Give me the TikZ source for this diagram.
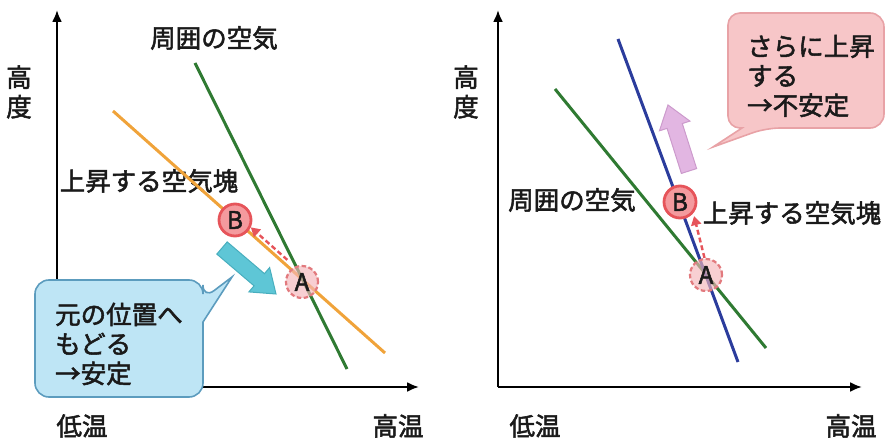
\documentclass[tikz,border=0pt]{standalone}
\usepackage{fontspec}
\setmainfont{Noto Sans CJK JP}[FakeBold=2]
\usetikzlibrary{calc,arrows.meta}
\definecolor{txt}{HTML}{1A1A1A}
\definecolor{gline}{HTML}{2F7A32}
\definecolor{oline}{HTML}{F0A33A}
\definecolor{bline}{HTML}{2B3C9C}
\definecolor{redB}{HTML}{E6545A}
\definecolor{redBfill}{HTML}{F49A9E}
\definecolor{redA}{HTML}{E27A7E}
\definecolor{redAfill}{HTML}{F4B6BA}
\definecolor{cyanfill}{HTML}{5EC6D6}
\definecolor{cyandraw}{HTML}{48AEBE}
\definecolor{purpfill}{HTML}{E2B6E2}
\definecolor{purpdraw}{HTML}{CC9ACC}
\definecolor{bluefill}{HTML}{BEE5F5}
\definecolor{bluedraw}{HTML}{5C9CBE}
\definecolor{pinkfill}{HTML}{F7C6C8}
\definecolor{pinkdraw}{HTML}{E8A2A6}
\newcommand{\fatarrow}[3]{%
  \coordinate (fh) at ($(#2)!22pt!(#1)$);
  \filldraw[#3]
    ($(#1)!8pt!90:(#2)$) -- ($(fh)!8pt!-90:(#1)$) -- ($(fh)!16pt!-90:(#1)$) -- (#2)
    -- ($(fh)!16pt!90:(#1)$) -- ($(fh)!8pt!90:(#1)$) -- ($(#1)!8pt!-90:(#2)$) -- cycle;}
\begin{document}
\begin{tikzpicture}[x=1pt,y=-1pt,
  axis/.style={line width=2.2pt, draw=black, -{Latex[length=12pt,width=10pt]}},
  lbl/.style={font=\fontsize{25.5}{29.5}\selectfont, text=txt, inner sep=0pt},
  ptB/.style={circle, minimum size=32pt, inner sep=0pt, fill=redBfill, draw=redB, line width=2.8pt, font=\fontsize{24}{24}\selectfont, text=txt},
  ptA/.style={circle, minimum size=32pt, inner sep=0pt, fill=redAfill, fill opacity=0.65, text opacity=1, draw=redA, draw opacity=1, dash pattern=on 4.5pt off 2.5pt, line width=2.2pt, font=\fontsize{24}{24}\selectfont, text=txt},
  dasharr/.style={draw=redB, line width=2.4pt, dash pattern=on 5pt off 3pt, -{Triangle[length=9pt,width=10pt]}},
  curve/.style={line width=3pt},
  bubbleB/.style={fill=bluefill, draw=bluedraw, line width=1.6pt},
  bubbleP/.style={fill=pinkfill, draw=pinkdraw, line width=1.6pt}]
\useasboundingbox (0,0) rectangle (886,438);

% ---------------- left panel ----------------
\coordinate (lo) at (57,387);
\coordinate (ly) at (57,10);
\coordinate (lx) at (419,387);
\draw[axis] (lo) -- (ly);
\draw[axis] (lo) -- (lx);
\node[lbl, align=center] (lh) at (19,92) {高\\度};
\node[lbl] (llow) at (82,426) {低温};
\node[lbl] (lhigh) at (398,426) {高温};
\node[lbl] (lenv) at (214,38) {周囲の空気};
\node[lbl] (lpar) at (149,181) {上昇する空気塊};

\draw[curve, oline] (113,111) -- (385,353);
\draw[curve, gline] (195,63) -- (347,369);

\coordinate (c1s) at (222,248);
\coordinate (c1e) at (276,294);
\fatarrow{c1s}{c1e}{fill=cyanfill, draw=cyandraw, line width=1pt}

\node[ptA] (lA) at (302,282) {A};
\node[ptB] (lB) at (235,220) {B};
\draw[dasharr, shorten <=10pt] (lA.115) -- (lB.-25);

\draw[bubbleB, rounded corners=14pt] (120,280) -- (203,280) -- (203,299)
  [sharp corners] -- (232,277) -- (203,322)
  [rounded corners=14pt] -- (203,397) -- (35,397) -- (35,280) -- cycle;
\node[lbl, align=left, anchor=west] (lcall) at (55,344) {元の位置へ\\もどる\\→安定};

% ---------------- right panel ----------------
\coordinate (ro) at (498,387);
\coordinate (ry) at (498,10);
\coordinate (rx) at (862,387);
\draw[axis] (ro) -- (ry);
\draw[axis] (ro) -- (rx);
\node[lbl, align=center] (rh) at (466,92) {高\\度};
\node[lbl] (rlow) at (535,426) {低温};
\node[lbl] (rhigh) at (851,426) {高温};
\node[lbl] (renv) at (572,200) {周囲の空気};
\node[lbl] (rpar) at (792,213) {上昇する空気塊};

\draw[curve, gline] (555,89) -- (766,348);
\draw[curve, bline] (618,39) -- (738,362);

\coordinate (c2s) at (689,171);
\coordinate (c2e) at (668,105);
\fatarrow{c2s}{c2e}{fill=purpfill, draw=purpdraw, line width=1pt}

\node[ptA] (rA) at (706,275) {A};
\node[ptB] (rB) at (680,202) {B};
\draw[dasharr, shorten >=3pt] (rA.95) -- (rB.-40);

\draw[bubbleP, rounded corners=14pt] (800,13) -- (884,13) -- (884,128) -- (766,128)
  [sharp corners] -- (713,147) -- (742,128)
  [rounded corners=12pt] -- (728,128) -- (728,13) -- cycle;
\node[lbl, align=left, anchor=west] (rcall) at (747,76) {さらに上昇\\する\\→不安定};
\end{tikzpicture}
\end{document}
